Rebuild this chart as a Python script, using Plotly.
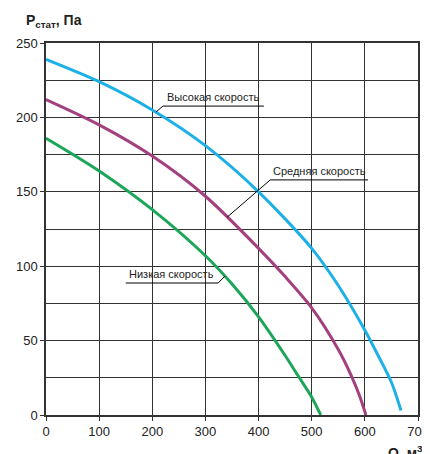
import plotly.graph_objects as go

q_high = [0, 100, 200, 300, 400, 500, 550, 600, 625, 650, 668]
p_high = [239, 224, 205, 181, 150, 112, 87, 57, 40, 22, 3]
q_mid = [0, 100, 200, 300, 400, 450, 500, 550, 575, 590, 602]
p_mid = [212, 195, 174, 147, 112, 93, 72, 44, 26, 13, 0]
q_low = [0, 100, 200, 300, 350, 400, 450, 475, 500, 517]
p_low = [186, 164, 138, 107, 88, 66, 40, 26, 12, 0]

fig = go.Figure()
for q, p, c in [(q_high, p_high, "#1cb0e6"), (q_mid, p_mid, "#a3407f"), (q_low, p_low, "#1ca659")]:
    fig.add_trace(go.Scatter(x=q, y=p, mode="lines", line=dict(color=c, width=3, shape="spline", smoothing=0.8), showlegend=False))

labels = [
    ("Высокая скорость", 220, 410, 207.6, 207, 203.6),
    ("Средняя скорость", 422, 606, 158, 341, 133),
    ("Низкая скорость", 150, 324, 88.7, 337, 93.4),
]
for text, x0, x1, yl, xe, ye in labels:
    sx = x0 if xe < x0 else x1
    fig.add_shape(type="line", x0=x0, x1=x1, y0=yl, y1=yl, line=dict(color="black", width=1))
    fig.add_shape(type="line", x0=sx, x1=xe, y0=yl, y1=ye, line=dict(color="black", width=1))
    fig.add_annotation(x=(x0 + x1) / 2, y=yl, text=text, showarrow=False, yanchor="bottom", yshift=1,
                       font=dict(size=11, color="#222"))

fig.add_annotation(xref="paper", yref="paper", x=-0.06, y=1.03, xanchor="left", yanchor="bottom",
                   text="<b>P<sub>стат</sub>, Па</b>", showarrow=False, font=dict(size=14, color="#222"))
fig.add_annotation(xref="paper", yref="paper", x=1.05, y=-0.07, xanchor="right", yanchor="top",
                   text="<b>Q, м<sup>3</sup>/ч</b>", showarrow=False, font=dict(size=14, color="#222"))

ax = dict(showline=True, linecolor="#333", linewidth=1.5, mirror=True, gridcolor="#333", gridwidth=1.2,
          ticks="outside", ticklen=4, tickcolor="#333", zeroline=False, automargin=False,
          tickfont=dict(size=13, color="#222"))
fig.update_xaxes(range=[0, 700], dtick=100, **ax)
fig.update_yaxes(range=[0, 250], **ax)
fig.update_yaxes(tickvals=[0, 50, 100, 150, 200, 250])
fig.update_yaxes(minor=dict(tickvals=[25, 75, 125, 175, 225], showgrid=True, gridcolor="#333", gridwidth=1.2))
fig.update_layout(width=430, height=454, margin=dict(l=38, r=20, t=35, b=47, autoexpand=False),
                  plot_bgcolor="white", paper_bgcolor="white",
                  font=dict(family="Liberation Sans, Arial, sans-serif"))
fig.write_html("out.html")
